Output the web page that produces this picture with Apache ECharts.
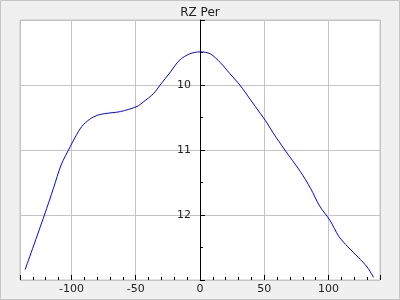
<!DOCTYPE html>
<html>
<head>
<meta charset="utf-8">
<script src="https://cdn.jsdelivr.net/npm/echarts@6/dist/echarts.min.js"></script>
<style>
html,body{margin:0;padding:0;background:#f0f0f0;}
#c{width:400px;height:300px;}
</style>
</head>
<body>
<div id="c"></div>
<script>
const titleText = "RZ Per";
const xValues = [-136, -121, -114, -108, -101, -97, -92, -86, -79, -70, -62, -49, -44, -36, -31, -23, -16, -8, 0, 8, 16, 23, 31, 39, 47, 51, 57, 66, 78, 86, 93, 101, 108, 115, 123, 130, 135];
const yValues = [12.84, 12.0, 11.59, 11.23, 10.95, 10.80, 10.64, 10.53, 10.46, 10.43, 10.41, 10.33, 10.26, 10.13, 10.0, 9.80, 9.62, 9.52, 9.49, 9.52, 9.66, 9.82, 10.0, 10.22, 10.44, 10.55, 10.74, 11.0, 11.33, 11.59, 11.86, 12.08, 12.33, 12.49, 12.65, 12.80, 12.96];
const xRange = [-140, 140];
const yRange = [9, 13];

const gridLeft = 20, gridRight = 20, chartW = 400;
const plotW = chartW - gridLeft - gridRight;
const zeroOffset = -((0 - xRange[0]) / (xRange[1] - xRange[0])) * plotW;

const pts = xValues.map((x, i) => [x, yValues[i]]);
const chart = echarts.init(document.getElementById('c'), null, {renderer: 'canvas'});
const font = 'DejaVu Sans';
chart.setOption({
  backgroundColor: '#f0f0f0',
  animation: false,
  graphic: [{
    type: 'rect', shape: {x: 0.5, y: 0.5, width: 399, height: 299},
    style: {fill: 'none', stroke: '#c4c4c4', lineWidth: 1}, silent: true, z: -1
  }],
  title: {
    text: titleText, left: 'center', top: 2,
    textStyle: {fontFamily: font, fontSize: 12, fontWeight: 'normal', color: '#222'}
  },
  grid: {left: gridLeft, right: gridRight, top: 20, bottom: 20, containLabel: false, outerBoundsMode: 'none', show: true, borderColor: '#c4c4c4', borderWidth: 1, backgroundColor: '#fff'},
  xAxis: {
    type: 'value', min: xRange[0], max: xRange[1], splitNumber: 5,
    axisLine: {show: false, onZero: false},
    axisTick: {show: true, inside: true, length: 5, lineStyle: {color: '#000'}},
    minorTick: {show: true, splitNumber: 5, length: 3, lineStyle: {color: '#000'}},
    axisLabel: {showMinLabel: false, showMaxLabel: false, margin: 4, fontFamily: font, fontSize: 11, color: '#222'},
    splitLine: {show: true, lineStyle: {color: '#c4c4c4', width: 1}}
  },
  yAxis: {
    type: 'value', inverse: true, min: yRange[0], max: yRange[1], interval: 1,
    offset: zeroOffset,
    axisLine: {show: true, onZero: false, lineStyle: {color: '#000', width: 1}},
    axisTick: {show: true, inside: true, length: 5, lineStyle: {color: '#000'}},
    minorTick: {show: true, splitNumber: 2, length: 3, lineStyle: {color: '#000'}},
    axisLabel: {showMinLabel: false, showMaxLabel: false, margin: 9, fontFamily: font, fontSize: 11, color: '#222'},
    splitLine: {show: true, lineStyle: {color: '#c4c4c4', width: 1}}
  },
  series: [{
    type: 'line', data: pts, showSymbol: false, smooth: 0.3,
    lineStyle: {color: '#0000ff', width: 1}, z: 1
  }]
});
</script>
</body>
</html>
